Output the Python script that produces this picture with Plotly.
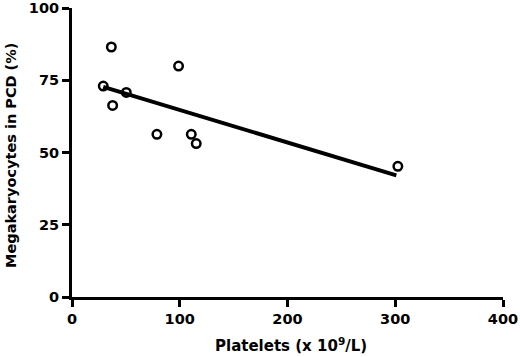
import plotly.graph_objects as go

platelets = [29, 36.5, 37.7, 50.4, 78.8, 98.9, 110.7, 115.3, 302.4]
megakaryocytes_pcd = [73.0, 86.5, 66.3, 70.8, 56.3, 79.9, 56.3, 53.1, 45.2]
fit_x = [29, 301]
fit_y = [72.7, 42.1]
x_ticks = [0, 100, 200, 300, 400]
y_ticks = [0, 25, 50, 75, 100]

FONT = "DejaVu Sans, Arial, sans-serif"
W, H = 520, 357
L, R, T, B = 72, 17, 8, 60
PW, PH = W - L - R, H - T - B

fig = go.Figure()
fig.add_trace(go.Scatter(
    x=fit_x, y=fit_y, mode="lines",
    line=dict(color="black", width=4),
    showlegend=False,
))
fig.add_trace(go.Scatter(
    x=platelets, y=megakaryocytes_pcd, mode="markers",
    marker=dict(symbol="circle-open", size=8.5, color="black", line=dict(width=2.5, color="black")),
    showlegend=False, cliponaxis=False,
))

fig.update_layout(
    width=W, height=H,
    margin=dict(l=L, r=R, t=T, b=B, autoexpand=False),
    plot_bgcolor="white", paper_bgcolor="white",
    font=dict(family=FONT, color="black", size=14, weight="bold"),
)
axis_common = dict(
    showgrid=False, zeroline=False, automargin=False,
    showline=True, linewidth=3, linecolor="black",
    ticks="outside", ticklen=7, tickwidth=3, tickcolor="black",
    tickfont=dict(family=FONT, size=14.5, weight="bold", color="black"),
    ticklabeloverflow="allow",
)
fig.update_xaxes(range=[0, 400], tickvals=x_ticks, ticktext=[str(v) for v in x_ticks], **axis_common)
fig.update_yaxes(range=[0, 100], tickvals=y_ticks, ticktext=[str(v) for v in y_ticks], **axis_common)

fig.add_annotation(
    text="Platelets (x 10<sup>9</sup>/L)", xref="paper", yref="paper",
    x=(291 - L) / PW, y=(H - B - 345) / PH, xanchor="center", yanchor="middle",
    showarrow=False, font=dict(family=FONT, size=15, weight="bold", color="black"),
)
fig.add_annotation(
    text="Megakaryocytes in PCD (%)", xref="paper", yref="paper",
    x=(11 - L) / PW, y=(H - B - 156) / PH, xanchor="center", yanchor="middle",
    textangle=-90, showarrow=False,
    font=dict(family=FONT, size=14.5, weight="bold", color="black"),
)

fig.write_html(
    "out.html",
    config={"displayModeBar": False},
    post_script="document.body.style.margin='0';document.body.style.padding='0';document.body.style.overflow='hidden';",
)
